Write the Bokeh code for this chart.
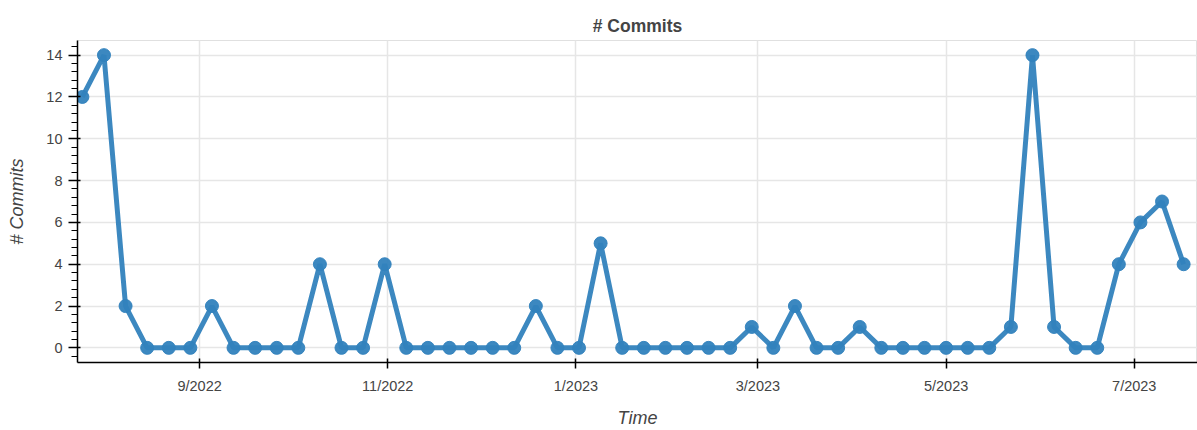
import datetime as dt
from bokeh.plotting import figure
from bokeh.models import Range1d, MonthsTicker, DatetimeTickFormatter, SingleIntervalTicker, ColumnDataSource
from bokeh.embed import file_html
from bokeh.resources import INLINE

# weekly commit counts (week starting Monday)
start_week = dt.datetime(2022, 7, 25)
n_weeks = 52
commits = [12, 14, 2, 0, 0, 0, 2, 0, 0, 0, 0, 4, 0, 0, 4, 0, 0, 0, 0, 0, 0, 2, 0, 0,
           5, 0, 0, 0, 0, 0, 0, 1, 0, 2, 0, 0, 1, 0, 0, 0, 0, 0, 0, 1, 14, 1, 0, 0,
           4, 6, 7, 4]
weeks = [start_week + dt.timedelta(weeks=i) for i in range(n_weeks)]

title_text = "# Commits"
x_label = "Time"
y_label = "# Commits"

src = ColumnDataSource(dict(x=weeks, y=commits))

p = figure(width=1197, height=430, x_axis_type="datetime",
           x_range=Range1d(dt.datetime(2022, 7, 23, 10), dt.datetime(2023, 7, 21, 12)),
           y_range=Range1d(-0.7, 14.7),
           output_backend="svg", toolbar_location=None,
           min_border_left=77, min_border_right=0, min_border_top=40, min_border_bottom=0)

p.title.text = title_text
p.title.align = "center"
p.title.text_font = "Liberation Sans"
p.title.text_font_size = "17.5px"
p.title.text_font_style = "bold"
p.title.text_color = "#444444"

p.outline_line_color = "#e0e0e0"
p.background_fill_color = "white"
p.border_fill_color = "white"

# BokehJS months are zero-based: 8 -> September
p.xaxis.ticker = MonthsTicker(months=[0, 2, 4, 6, 8, 10])
p.xaxis.formatter = DatetimeTickFormatter(months="%-m/%Y", days="%-m/%Y", years="%-m/%Y")
p.yaxis.ticker = SingleIntervalTicker(interval=2, num_minor_ticks=5)

for ax in (p.xaxis[0], p.yaxis[0]):
    ax.axis_line_color = "black"
    ax.axis_line_width = 1.5
    ax.major_tick_line_color = "black"
    ax.major_tick_line_width = 1.5
    ax.minor_tick_line_color = "black"
    ax.minor_tick_line_width = 1.2
    ax.major_label_text_font = "Liberation Sans"
    ax.major_label_text_font_size = "14.5px"
    ax.major_label_text_color = "#444444"
    ax.axis_label_text_font = "Liberation Sans"
    ax.axis_label_text_font_size = "18px"
    ax.axis_label_text_font_style = "italic"
    ax.axis_label_text_color = "#444444"

p.xaxis.axis_label = x_label
p.yaxis.axis_label = y_label
p.xaxis.major_tick_in = 4
p.xaxis.major_tick_out = 6
p.xaxis.minor_tick_line_color = None
p.xaxis.major_label_standoff = 9
p.xaxis.axis_label_standoff = 11
p.yaxis.major_tick_in = 3
p.yaxis.major_tick_out = 9
p.yaxis.minor_tick_in = 0
p.yaxis.minor_tick_out = 6
p.yaxis.major_label_standoff = 6
p.yaxis.axis_label_standoff = 16

p.xgrid.grid_line_color = "#e6e6e6"
p.ygrid.grid_line_color = "#e6e6e6"
p.xgrid.grid_line_width = 1.5
p.ygrid.grid_line_width = 1.5

p.line("x", "y", source=src, line_width=5, color="#3182bd", alpha=0.95)
p.scatter("x", "y", source=src, size=13, color="#3182bd", alpha=0.95)

open("out.html", "w").write(file_html(p, INLINE))
